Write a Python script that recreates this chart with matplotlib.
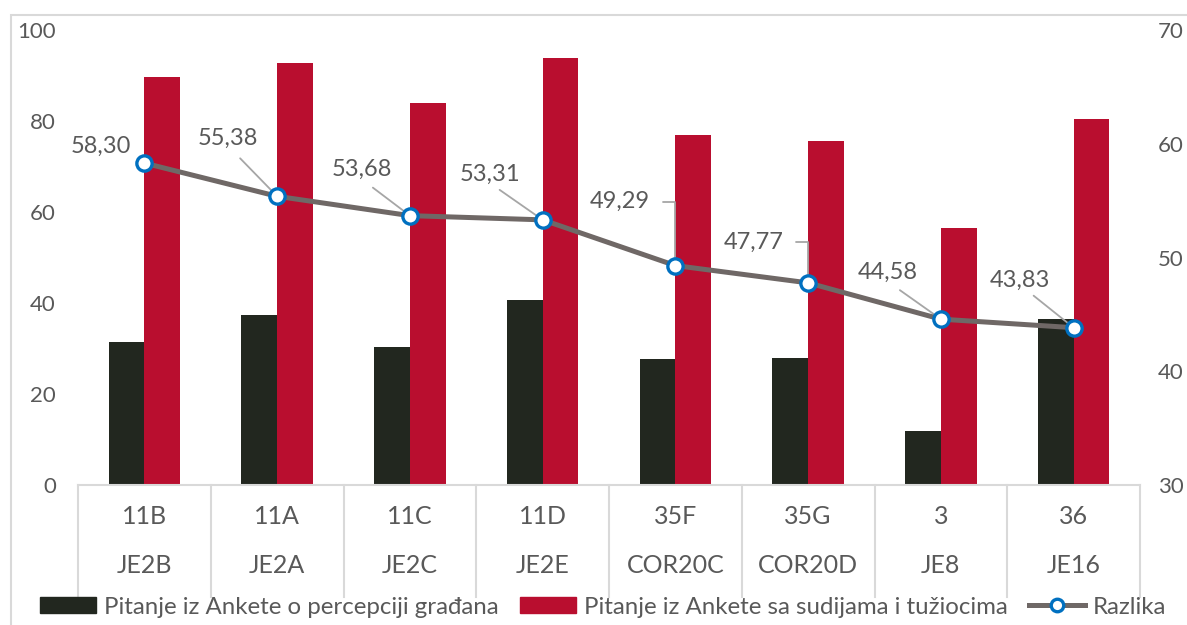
import matplotlib
matplotlib.use("Agg")
import matplotlib.pyplot as plt
import matplotlib.patches as mpatches
import matplotlib.lines as mlines
import numpy as np

plt.rcParams['font.family'] = ['Lato', 'DejaVu Sans']

# podaci
codes = ["11B", "11A", "11C", "11D", "35F", "35G", "3", "36"]
groups = ["JE2B", "JE2A", "JE2C", "JE2E", "COR20C", "COR20D", "JE8", "JE16"]
gradjani = [31.4, 37.4, 30.3, 40.6, 27.6, 27.9, 11.9, 36.5]
sudije = [89.7, 92.7, 84.0, 93.8, 76.9, 75.6, 56.5, 80.4]
razlika = [58.30, 55.38, 53.68, 53.31, 49.29, 47.77, 44.58, 43.83]
razlika_txt = ["58,30", "55,38", "53,68", "53,31", "49,29", "47,77", "44,58", "43,83"]

# pozicije etiketa (pikseli od tacke): tekst, pocetak linije, lakat
lbl_off = [(-44, 17), (-49, 58), (-48, 46), (-53, 46), (-56, 64), (-54, 41), (-53, 47), (-54, 47)]
lead_off = [None, (-37, 38), (-37, 28), (-43, 30), (-12, 64), (-12, 41), (-41, 29), (-40, 32)]
elbow = [False, False, False, False, True, True, False, False]

c_dark = "#22271F"
c_red = "#B90E2F"
c_line = "#6F6866"
c_blue = "#0070C0"
c_txt = "#595959"
c_grid = "#D9D9D9"

fig = plt.figure(figsize=(11.87, 6.25), dpi=100)
ax = fig.add_axes([78/1187, 140/625, 1062/1187, 455/625])

x = np.arange(len(codes))
w = 0.27
ax.bar(x - w/2, gradjani, w, color=c_dark)
ax.bar(x + w/2, sudije, w, color=c_red)
ax.set_xlim(-0.5, len(codes) - 0.5)
ax.set_ylim(0, 100)
ax.set_yticks(range(0, 101, 20))
ax.tick_params(axis='y', length=0, pad=16, labelsize=16, labelcolor=c_txt)
ax.set_xticks([])
for s in ['top', 'left', 'right']:
    ax.spines[s].set_visible(False)
ax.spines['bottom'].set_color(c_grid)
ax.spines['bottom'].set_linewidth(1.5)

# kategorije na dva nivoa
tr = ax.get_xaxis_transform()
for b in np.arange(len(codes) + 1) - 0.5:
    ax.plot([b, b], [0, -0.246], transform=tr, color=c_grid, lw=1.5, clip_on=False)
for i in range(len(codes)):
    ax.text(i, -0.07, codes[i], transform=tr, ha='center', va='center', fontsize=18, color=c_txt)
    ax.text(i, -0.176, groups[i], transform=tr, ha='center', va='center', fontsize=18, color=c_txt)

ax2 = ax.twinx()
ax2.set_ylim(30, 70)
ax2.set_yticks(range(30, 71, 10))
ax2.tick_params(axis='y', length=0, pad=13, labelsize=16, labelcolor=c_txt)
for s in ax2.spines.values():
    s.set_visible(False)
ax2.plot(x, razlika, color=c_line, lw=3.6, marker='o', ms=11, mfc='white',
         mec=c_blue, mew=2.4, zorder=5)

for i in range(len(codes)):
    ax2.annotate(razlika_txt[i], (x[i], razlika[i]), xytext=lbl_off[i],
                 textcoords='offset pixels', ha='center', va='center',
                 fontsize=17, color=c_txt, zorder=6)
    if lead_off[i] is not None:
        cs = "angle,angleA=0,angleB=90,rad=0" if elbow[i] else "arc3"
        ax2.annotate("", (x[i], razlika[i]), xytext=lead_off[i], textcoords='offset pixels',
                     arrowprops=dict(arrowstyle='-', color="#A6A6A6", lw=1.3,
                                     shrinkA=0, shrinkB=0, connectionstyle=cs),
                     zorder=4)

# okvir
fig.patches.append(mpatches.Rectangle((11/1187, -0.2), 1.5, 0.976 + 0.2, transform=fig.transFigure,
                                      fill=False, edgecolor=c_grid, lw=1.5))

h1 = mpatches.Patch(color=c_dark, label="Pitanje iz Ankete o percepciji građana")
h2 = mpatches.Patch(color=c_red, label="Pitanje iz Ankete sa sudijama i tužiocima")
h3 = mlines.Line2D([], [], color=c_line, lw=3.6, marker='o', ms=9, mfc='white',
                   mec=c_blue, mew=2.4, label="Razlika")
leg = fig.legend(handles=[h1, h2, h3], loc='center', bbox_to_anchor=(0.508, 18/625), ncol=3,
                 frameon=False, fontsize=17.3, handlelength=2.35, handleheight=0.65,
                 handletextpad=0.3, columnspacing=0.9, borderpad=0)
for t in leg.get_texts():
    t.set_color(c_txt)

fig.savefig("out.png", dpi=100)
